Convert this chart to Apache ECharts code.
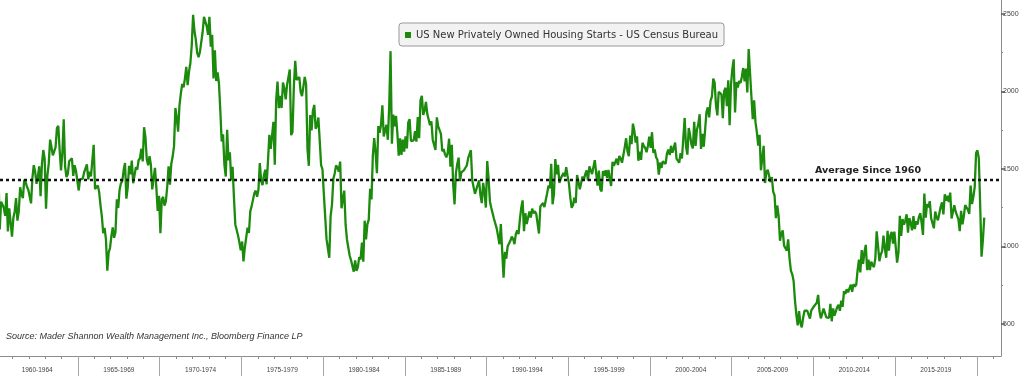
<!DOCTYPE html>
<html>
<head>
<meta charset="utf-8">
<title>US Housing Starts</title>
<script src="https://cdn.jsdelivr.net/npm/echarts@6/dist/echarts.min.js"></script>
<style>
    html, body { margin: 0; padding: 0; background: #ffffff; }
    #chart { width: 1024px; height: 376px; }
</style>
</head>
<body>
<div id="chart"></div>
<script>
// Housing starts, thousands of units (SAAR), monthly from Jan 1960
const hs1960s = [
    1460, 1503, 1109, 1289, 1271, 1247, 1197, 1344, 1097, 1246, 1246, 1063,
    1183, 1226, 1312, 1166, 1228, 1382, 1335, 1312, 1429, 1415, 1385, 1365,
    1361, 1278, 1443, 1524, 1483, 1404, 1450, 1517, 1324, 1533, 1622, 1564,
    1244, 1456, 1534, 1689, 1641, 1588, 1614, 1639, 1763, 1779, 1622, 1491,
    1603, 1820, 1517, 1448, 1467, 1550, 1562, 1569, 1455, 1524, 1486, 1484,
    1361, 1433, 1423, 1438, 1478, 1488, 1529, 1432, 1482, 1452, 1460, 1656,
    1370, 1378, 1394, 1352, 1265, 1194, 1086, 1119, 1046, 843, 961, 990,
    1067, 1123, 1056, 1091, 1304, 1248, 1364, 1407, 1421, 1491, 1538, 1308,
    1380, 1520, 1466, 1554, 1408, 1405, 1512, 1495, 1556, 1569, 1630, 1548,
    1769, 1705, 1561, 1524, 1583, 1528, 1368, 1358, 1507, 1381, 1229, 1327
];
const hs1970s = [
    1085, 1305, 1319, 1264, 1290, 1385, 1517, 1399, 1534, 1580, 1647, 1893,
    1828, 1741, 1910, 1986, 2049, 2026, 2083, 2158, 2041, 2128, 2182, 2295,
    2494, 2390, 2334, 2249, 2221, 2254, 2252, 2382, 2481, 2485, 2421, 2366,
    2481, 2289, 2365, 2084, 2266, 2067, 2123, 2051, 1874, 1677, 1724, 1526,
    1451, 1752, 1555, 1607, 1426, 1513, 1316, 1142, 1150, 1070, 1026, 975,
    1032, 904, 993, 1005, 1121, 1087, 1226, 1260, 1264, 1344, 1360, 1321,
    1367, 1538, 1421, 1395, 1459, 1495, 1401, 1550, 1720, 1629, 1641, 1804,
    1527, 1943, 2063, 1892, 1971, 1893, 2058, 2020, 1949, 2042, 2042, 2142,
    1718, 1738, 2032, 2197, 2075, 2070, 2092, 1996, 1970, 1981, 2094, 2044,
    1630, 1520, 1847, 1748, 1876, 1913, 1760, 1778, 1832, 1681, 1524, 1498
];
const hs1980s = [
    1341, 1350, 1047, 1051, 927, 1196, 1269, 1436, 1471, 1523, 1510, 1482,
    1547, 1246, 1306, 1360, 1140, 1045, 1041, 940, 911, 873, 837, 910,
    843, 866, 931, 917, 1025, 902, 1166, 1046, 1144, 1173, 1372, 1303,
    1586, 1699, 1606, 1472, 1776, 1733, 1785, 1910, 1710, 1715, 1785, 1688,
    1897, 2260, 1663, 1851, 1774, 1843, 1732, 1586, 1698, 1590, 1689, 1612,
    1711, 1632, 1800, 1821, 1680, 1676, 1684, 1743, 1676, 1834, 1698, 1942,
    1972, 1848, 1876, 1933, 1854, 1847, 1782, 1807, 1687, 1681, 1623, 1833,
    1774, 1784, 1726, 1614, 1628, 1594, 1575, 1605, 1695, 1515, 1656, 1400,
    1271, 1473, 1532, 1573, 1421, 1478, 1467, 1493, 1492, 1522, 1569, 1563,
    1621, 1425, 1422, 1339, 1331, 1397, 1427, 1332, 1279, 1410, 1351, 1251
];
const hs1990s = [
    1551, 1437, 1289, 1248, 1212, 1177, 1171, 1115, 1110, 1014, 1145, 969,
    798, 965, 921, 1001, 996, 1036, 1063, 1049, 1015, 1079, 1103, 1079,
    1176, 1250, 1297, 1099, 1214, 1145, 1139, 1226, 1186, 1244, 1214, 1227,
    1210, 1210, 1083, 1258, 1260, 1280, 1254, 1300, 1343, 1392, 1376, 1533,
    1272, 1337, 1564, 1465, 1526, 1409, 1439, 1450, 1474, 1450, 1511, 1455,
    1407, 1316, 1249, 1267, 1314, 1281, 1461, 1416, 1369, 1369, 1452, 1431,
    1467, 1491, 1424, 1516, 1504, 1467, 1472, 1557, 1475, 1392, 1489, 1370,
    1355, 1486, 1457, 1492, 1442, 1494, 1437, 1390, 1546, 1520, 1510, 1566,
    1525, 1584, 1567, 1540, 1536, 1641, 1698, 1614, 1582, 1715, 1660, 1792,
    1748, 1670, 1710, 1553, 1611, 1559, 1669, 1648, 1635, 1608, 1648, 1708
];
const hs2000s = [
    1636, 1737, 1604, 1626, 1575, 1559, 1463, 1541, 1507, 1549, 1551, 1532,
    1600, 1625, 1590, 1649, 1605, 1636, 1670, 1567, 1562, 1540, 1602, 1568,
    1698, 1829, 1642, 1592, 1764, 1717, 1655, 1633, 1804, 1648, 1753, 1788,
    1853, 1629, 1726, 1643, 1751, 1867, 1897, 1833, 1939, 1967, 2083, 2057,
    1911, 1846, 1998, 2003, 1981, 1828, 2002, 2024, 1905, 2072, 1782, 2042,
    2144, 2207, 1864, 2061, 2025, 2068, 2054, 2095, 2151, 2065, 2147, 1994,
    2273, 2119, 1969, 1821, 1942, 1802, 1737, 1650, 1720, 1491, 1570, 1649,
    1409, 1480, 1495, 1490, 1415, 1448, 1354, 1330, 1183, 1264, 1197, 1037,
    1084, 1103, 1005, 1013, 973, 1046, 923, 844, 820, 777, 652, 560,
    490, 582, 505, 478, 540, 585, 594, 586, 585, 534, 588, 581
];
const hs2010s = [
    614, 604, 636, 687, 583, 536, 546, 599, 594, 543, 545, 539,
    630, 517, 600, 554, 561, 608, 623, 585, 650, 610, 711, 694,
    723, 704, 695, 753, 708, 757, 740, 754, 847, 915, 833, 976,
    888, 962, 1010, 847, 914, 847, 901, 880, 866, 923, 1098, 1004,
    905, 948, 969, 1070, 986, 927, 1100, 973, 1070, 1094, 1018, 1095,
    1096, 896, 960, 1197, 1068, 1177, 1140, 1165, 1207, 1089, 1183, 1152,
    1104, 1195, 1112, 1163, 1141, 1189, 1214, 1153, 1074, 1341, 1186, 1275,
    1253, 1292, 1182, 1150, 1117, 1225, 1187, 1169, 1161, 1256, 1285, 1207,
    1336, 1295, 1327, 1286, 1347, 1180, 1180, 1265, 1224, 1228, 1176, 1098,
    1230, 1142, 1195, 1267, 1272, 1236, 1210, 1393, 1274, 1319, 1383, 1602
];
const hs2020 = [1620, 1570, 1270, 934, 1040, 1186];

// Average since 1960
const avgSince1960 = 1429;

// Bottom axis: five-year periods
const periodLabels = [
    '1960-1964', '1965-1969', '1970-1974', '1975-1979', '1980-1984', '1985-1989',
    '1990-1994', '1995-1999', '2000-2004', '2005-2009', '2010-2014', '2015-2019'
];

// Right axis
const yLabels = [500, 1000, 1500, 2000, 2500];
const yMinorTicks = [750, 1250, 1750, 2250];

const SERIES_NAME = 'US New Privately Owned Housing Starts - US Census Bureau';
const GREEN = '#1c8a0c';

const starts = [].concat(hs1960s, hs1970s, hs1980s, hs1990s, hs2000s, hs2010s, hs2020);
// x = months since Jan 1960, point at middle of month
const lineData = starts.map((v, i) => [i + 0.5, v]);

const periodBounds = periodLabels.map((_, i) => i * 60).concat([periodLabels.length * 60]);
const periodCenters = periodLabels.map((_, i) => i * 60 + 30);
const yearTicks = [];
for (let m = 12; m <= 732; m += 12) {
    if (m % 60 !== 0) yearTicks.push(m);
}

const X_MIN = 2.7;
const X_MAX = 737.8;

const chart = echarts.init(document.getElementById('chart'));

const option = {
    animation: false,
    backgroundColor: '#ffffff',
    title: {
        text: 'Source: Mader Shannon Wealth Management Inc., Bloomberg Finance LP',
        left: 6,
        top: 332,
        padding: 0,
        textStyle: {
            fontFamily: 'Liberation Sans',
            fontStyle: 'italic',
            fontWeight: 'normal',
            fontSize: 9,
            color: '#333333'
        }
    },
    legend: {
        data: [{ name: SERIES_NAME, icon: 'rect' }],
        left: 399,
        top: 23,
        itemWidth: 6,
        itemHeight: 6,
        padding: [7, 6, 6, 6],
        backgroundColor: '#f2f2f2',
        borderColor: '#999999',
        borderWidth: 1,
        borderRadius: 3,
        textStyle: {
            fontFamily: 'DejaVu Sans',
            fontSize: 10,
            color: '#333333'
        }
    },
    grid: {
        left: 0,
        right: 23,
        top: 0,
        bottom: 20,
        containLabel: false,
        outerBoundsMode: 'none'
    },
    xAxis: [{
        type: 'value',
        min: X_MIN,
        max: X_MAX,
        position: 'bottom',
        axisLine: { show: true, lineStyle: { color: '#8c8c8c', width: 1 } },
        axisTick: {
            show: true,
            customValues: periodBounds,
            length: 21,
            lineStyle: { color: '#a6a6a6', width: 1 }
        },
        axisLabel: {
            customValues: periodCenters,
            formatter: v => periodLabels[Math.round((v - 30) / 60)],
            fontFamily: 'Liberation Sans',
            fontSize: 6.5,
            color: '#444444',
            margin: 11
        },
        splitLine: { show: false }
    }, {
        type: 'value',
        min: X_MIN,
        max: X_MAX,
        position: 'bottom',
        axisLine: { show: false },
        axisTick: {
            show: true,
            customValues: yearTicks,
            length: 3,
            lineStyle: { color: '#8c8c8c' }
        },
        axisLabel: { show: false },
        splitLine: { show: false }
    }],
    yAxis: [{
        type: 'value',
        position: 'right',
        min: 293,
        max: 2590,
        axisLine: { show: true, lineStyle: { color: '#8c8c8c', width: 1 } },
        axisTick: {
            show: true,
            customValues: yLabels,
            length: 4,
            lineStyle: { color: '#555555', width: 1.5 }
        },
        axisLabel: {
            customValues: yLabels,
            formatter: v => String(v),
            fontFamily: 'Liberation Sans',
            fontSize: 7,
            color: '#444444',
            margin: 2
        },
        splitLine: { show: false }
    }, {
        type: 'value',
        position: 'right',
        min: 293,
        max: 2590,
        axisLine: { show: false },
        axisTick: {
            show: true,
            customValues: yMinorTicks,
            length: 2,
            lineStyle: { color: '#8c8c8c' }
        },
        axisLabel: { show: false },
        splitLine: { show: false }
    }],
    series: [{
        name: SERIES_NAME,
        type: 'line',
        xAxisIndex: 0,
        yAxisIndex: 0,
        data: lineData,
        showSymbol: false,
        symbol: 'none',
        clip: true,
        lineStyle: { color: GREEN, width: 2.3 },
        itemStyle: { color: GREEN },
        markLine: {
            silent: true,
            symbol: 'none',
            data: [{ yAxis: avgSince1960 }],
            lineStyle: { color: '#111111', type: [3, 3], width: 2.3 },
            label: {
                show: true,
                position: 'insideEndTop',
                formatter: 'Average Since 1960',
                fontFamily: 'DejaVu Sans',
                fontWeight: 'bold',
                fontSize: 9.5,
                color: '#222222',
                distance: 4,
                padding: [0, 76, 0, 0]
            }
        }
    }]
};

chart.setOption(option);
window.addEventListener('resize', () => chart.resize());
</script>
</body>
</html>
